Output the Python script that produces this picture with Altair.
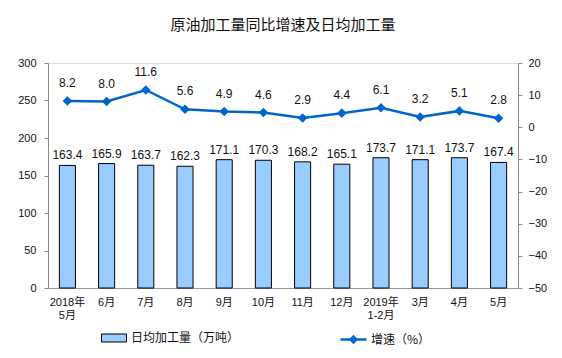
import altair as alt
import pandas as pd

months = ["2018年|5月", "6月", "7月", "8月", "9月", "10月", "11月", "12月",
          "2019年|1-2月", "3月", "4月", "5月"]
daily = [163.4, 165.9, 163.7, 162.3, 171.1, 170.3, 168.2, 165.1, 173.7, 171.1, 173.7, 167.4]
growth = [8.2, 8.0, 11.6, 5.6, 4.9, 4.6, 2.9, 4.4, 6.1, 3.2, 5.1, 2.8]
left_ticks = [0, 50, 100, 150, 200, 250, 300]
right_ticks = [-50, -40, -30, -20, -10, 0, 10, 20]

bar_name = "日均加工量（万吨）"
line_name = "增速（%）"

df = pd.DataFrame({"month": months, "daily": daily, "growth": growth,
                   "bs": [bar_name] * len(months), "ls": [line_name] * len(months)})

FONT = "Liberation Sans, Noto Sans CJK SC"
xaxis = alt.Axis(labelExpr="split(datum.label, '|')", labelAngle=0,
                 labelFontSize=11, labelColor="#111", labelPadding=8,
                 ticks=False, domainColor="#999", labelFont=FONT,
                 labelLineHeight=13)
xscale = alt.Scale(paddingInner=0.59, paddingOuter=0.29)
xenc = alt.X("month:N", sort=months, title=None, scale=xscale, axis=xaxis)

laxis = alt.Axis(values=left_ticks, grid=False, tickSize=4, domainColor="#888",
                 tickColor="#888", labelFontSize=11, labelColor="#111",
                 labelFont=FONT, labelOverlap=False, labelPadding=8)
raxis = alt.Axis(orient="right", values=right_ticks, grid=False, tickSize=4,
                 domainColor="#888", tickColor="#888", labelFontSize=11,
                 labelColor="#111", labelFont=FONT, labelOverlap=False, labelPadding=6)
ly = alt.Y("daily:Q", title=None, scale=alt.Scale(domain=[0, 300]), axis=laxis)
ry = alt.Y("growth:Q", title=None, scale=alt.Scale(domain=[-50, 20]), axis=raxis)

base = alt.Chart(df)

bars = base.mark_bar(stroke="black", strokeWidth=1).encode(
    x=xenc, y=ly,
    fill=alt.Fill("bs:N", scale=alt.Scale(range=["#99CCFF"]),
                  legend=alt.Legend(title=None, orient="none", legendX=53, legendY=262,
                                    padding=0,
                                    symbolType="M-1,-0.32H1V0.32H-1Z", symbolSize=625,
                                    symbolStrokeColor="black", symbolStrokeWidth=1,
                                    labelFontSize=12, labelFont="Noto Sans CJK SC",
                                    labelColor="#111", labelOffset=4)),
)

bar_text = base.mark_text(baseline="bottom", dy=-3, fontSize=12, font=FONT, color="#111").encode(
    x=xenc, y=ly,
    text=alt.Text("daily:Q", format=".1f"),
)

left = alt.layer(bars, bar_text)

line = base.mark_line(strokeWidth=2.5, point=alt.OverlayMarkDef(shape="diamond", size=45, filled=True, color="#0066CC")).encode(
    x=xenc, y=ry,
    stroke=alt.Stroke("ls:N", scale=alt.Scale(range=["#0066CC"]),
                      legend=alt.Legend(title=None, orient="none", legendX=291, legendY=262,
                                        padding=0,
                                        symbolType="M-1,0H1M-0.22,0L0,-0.22L0.22,0L0,0.22Z",
                                        symbolSize=676, symbolStrokeWidth=2.5,
                                        symbolFillColor="#0066CC",
                                        labelFontSize=12, labelFont="Noto Sans CJK SC",
                                        labelColor="#111", labelOffset=3)),
)

line_text = base.mark_text(baseline="bottom", dy=-11, fontSize=12, font=FONT, color="#111").encode(
    x=xenc, y=ry,
    text=alt.Text("growth:Q", format=".1f"),
)

right = alt.layer(line, line_text)

chart = alt.layer(left, right).resolve_scale(
    y="independent", fill="independent", stroke="independent"
).properties(
    width=470, height=225,
    padding={"left": 40, "top": 55, "right": 36, "bottom": 62},
    autosize=alt.AutoSizeParams(type="none"),
    title=alt.TitleParams("原油加工量同比增速及日均加工量", fontSize=15, font="Noto Sans CJK SC",
                          fontWeight="normal", color="#111", offset=24, anchor="middle"),
).configure_view(stroke=None).configure(background="white")

chart.save("out.html", embed_options={"renderer": "svg", "actions": False})
